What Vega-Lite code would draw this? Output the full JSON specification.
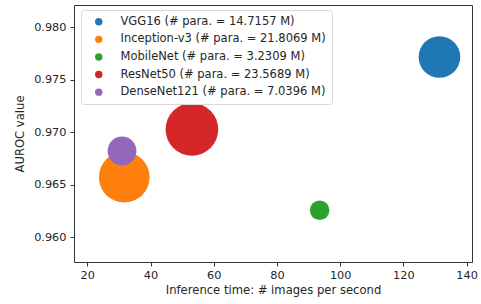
{
  "$schema": "https://vega.github.io/schema/vega-lite/v6.json",
  "autosize": "none",
  "width": 398,
  "height": 257,
  "padding": {"left": 74, "top": 5, "right": 9, "bottom": 42},
  "background": "white",
  "config": {
    "font": "DejaVu Sans",
    "view": {"stroke": "#333333", "strokeWidth": 1},
    "axis": {
      "grid": false,
      "domain": false,
      "tickColor": "#333333",
      "tickSize": 4,
      "labelFont": "DejaVu Sans",
      "labelFontSize": 11.3,
      "labelColor": "#262626",
      "titleFont": "DejaVu Sans",
      "titleFontSize": 11.6,
      "titleFontWeight": "normal",
      "titleColor": "#262626"
    }
  },
  "data": {
    "values": [
      {"model": "VGG16 (# para. = 14.7157 M)", "speed": 131.4, "auroc": 0.97717, "params": 14.7157},
      {"model": "Inception-v3 (# para. = 21.8069 M)", "speed": 31.7, "auroc": 0.96572, "params": 21.8069},
      {"model": "MobileNet (# para. = 3.2309 M)", "speed": 93.5, "auroc": 0.96257, "params": 3.2309},
      {"model": "ResNet50 (# para. = 23.5689 M)", "speed": 53.1, "auroc": 0.97028, "params": 23.5689},
      {"model": "DenseNet121 (# para. = 7.0396 M)", "speed": 31.0, "auroc": 0.96822, "params": 7.0396}
    ]
  },
  "mark": {"type": "circle", "opacity": 1},
  "encoding": {
    "x": {
      "field": "speed", "type": "quantitative",
      "scale": {"domain": [15.8, 141.7], "nice": false, "zero": false},
      "axis": {"values": [20, 40, 60, 80, 100, 120, 140], "title": "Inference time: # images per second", "labelPadding": 3, "titlePadding": 4}
    },
    "y": {
      "field": "auroc", "type": "quantitative",
      "scale": {"domain": [0.95764, 0.98213], "nice": false, "zero": false},
      "axis": {"values": [0.96, 0.965, 0.97, 0.975, 0.98], "format": ".3f", "title": "AUROC value", "labelPadding": 4, "titlePadding": 8}
    },
    "size": {
      "field": "params", "type": "quantitative",
      "scale": {"type": "linear", "domain": [0, 25], "range": [0, 2945], "zero": true},
      "legend": null
    },
    "color": {
      "field": "model", "type": "nominal",
      "sort": null,
      "scale": {
        "domain": ["VGG16 (# para. = 14.7157 M)", "Inception-v3 (# para. = 21.8069 M)", "MobileNet (# para. = 3.2309 M)", "ResNet50 (# para. = 23.5689 M)", "DenseNet121 (# para. = 7.0396 M)"],
        "range": ["#1f77b4", "#ff7f0e", "#2ca02c", "#d62728", "#9467bd"]
      },
      "legend": {
        "title": null,
        "orient": "none",
        "legendX": 7,
        "legendY": 5,
        "padding": 6,
        "strokeColor": "#d9d9d9",
        "cornerRadius": 3,
        "fillColor": "white",
        "symbolType": "circle",
        "symbolSize": 55,
        "symbolOffset": 6,
        "symbolOpacity": 1,
        "symbolStrokeWidth": 0,
        "labelFont": "DejaVu Sans",
        "labelFontSize": 11.5,
        "labelColor": "#262626",
        "labelOffset": 16,
        "rowPadding": 4.6,
        "labelLimit": 400
      }
    }
  }
}
